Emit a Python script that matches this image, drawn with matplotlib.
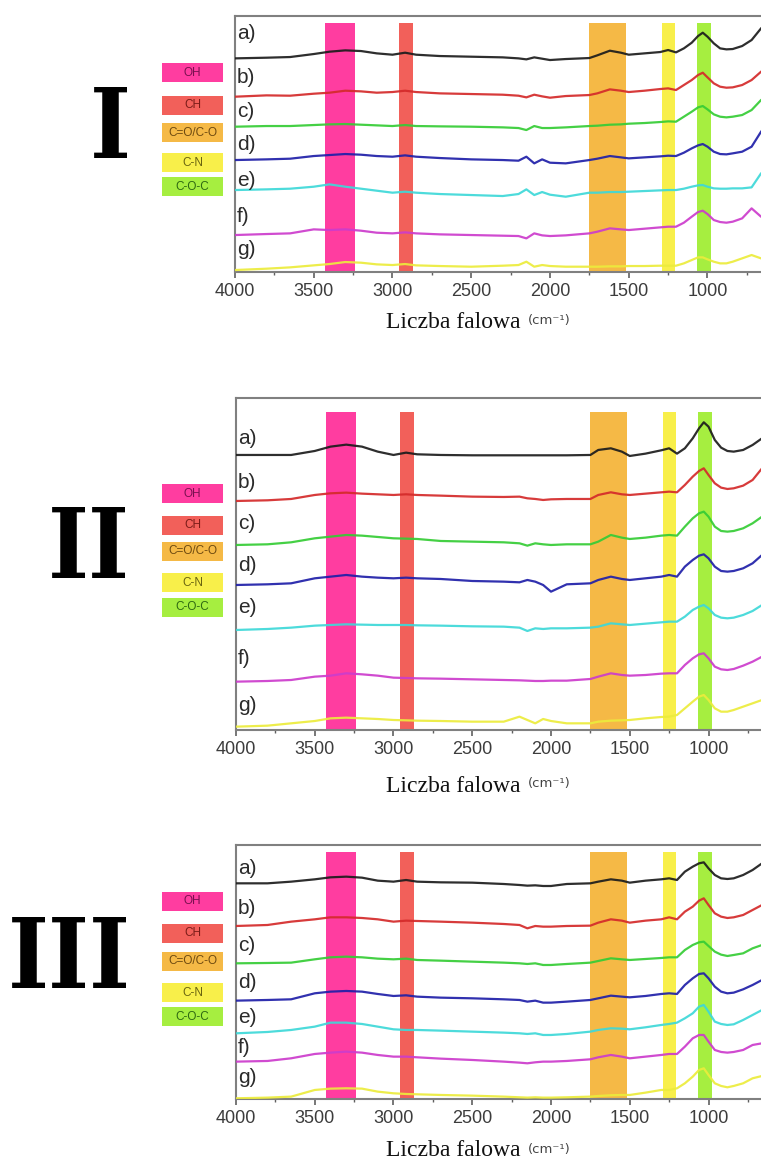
import matplotlib.pyplot as plt
from matplotlib.patches import Rectangle
from matplotlib.ticker import MultipleLocator

# wspolna siatka liczb falowych (cm-1)
wavenumber = [4000, 3800, 3650, 3500, 3400, 3300, 3200, 3100, 3000, 2920, 2850, 2700,
              2500, 2300, 2200, 2150, 2100, 2050, 2000, 1900, 1750, 1700, 1620, 1550,
              1500, 1400, 1300, 1250, 1200, 1150, 1100, 1060, 1030, 1000, 960, 920,
              880, 840, 780, 720, 660, 600]

# widma przesuniete (j.u.), kolejno a) ... g)
spectra_I = [
    [640, 642, 644, 653, 660, 664, 662, 655, 651, 657, 651, 647, 645, 643, 640, 637, 643, 639, 635, 638, 641,
     649, 663, 657, 651, 655, 659, 665, 658, 670, 687, 707, 717, 705, 685, 670, 667, 668, 677, 695, 730, 755],
    [525, 529, 528, 534, 537, 543, 541, 537, 539, 543, 539, 535, 533, 531, 528, 523, 531, 526, 522, 527, 530,
     535, 547, 543, 539, 543, 548, 550, 545, 560, 575, 590, 597, 583, 565, 555, 552, 553, 560, 575, 600, 620],
    [435, 437, 437, 440, 442, 443, 441, 439, 437, 440, 437, 436, 435, 433, 431, 425, 437, 431, 431, 433, 437,
     438, 441, 442, 444, 446, 449, 451, 450, 465, 480, 493, 497, 487, 472, 465, 463, 465, 470, 485, 515, 535],
    [335, 337, 339, 347, 350, 353, 351, 347, 345, 349, 345, 341, 337, 335, 333, 345, 325, 337, 327, 325, 335,
     339, 347, 343, 340, 343, 346, 348, 347, 357, 370, 379, 383, 375, 360, 353, 352, 355, 360, 375, 420, 455],
    [245, 247, 249, 255, 262, 255, 249, 243, 237, 240, 237, 233, 230, 227, 233, 247, 230, 239, 231, 225, 237,
     237, 239, 239, 240, 242, 244, 245, 245, 249, 255, 259, 260, 255, 250, 249, 249, 250, 250, 253, 295, 315],
    [110, 113, 115, 127, 125, 127, 123, 117, 115, 118, 115, 112, 110, 108, 107, 100, 115, 109, 107, 109, 115,
     120, 130, 127, 125, 129, 133, 135, 135, 147, 165, 179, 183, 173, 155, 149, 147, 150, 160, 190, 165, 160],
    [5, 9, 13, 19, 23, 29, 27, 22, 20, 23, 19, 17, 15, 18, 20, 30, 15, 20, 17, 15, 15,
     15, 16, 16, 17, 17, 18, 18, 18, 25, 35, 43, 43, 37, 30, 25, 25, 30, 40, 50, 40, 35],
]

spectra_II = [
    [825, 825, 825, 837, 850, 856, 850, 835, 825, 832, 827, 825, 824, 824, 824, 824, 824, 824, 824, 824, 825,
     840, 845, 835, 822, 829, 839, 845, 829, 845, 875, 905, 923, 910, 870, 847, 837, 835, 840, 855, 875, 890],
    [687, 689, 693, 705, 710, 712, 709, 707, 705, 707, 705, 703, 700, 699, 700, 695, 693, 690, 692, 693, 693,
     705, 713, 707, 705, 709, 713, 715, 713, 735, 760, 777, 785, 765, 740, 727, 723, 725, 733, 750, 785, 805],
    [555, 557, 563, 575, 580, 585, 583, 579, 575, 574, 573, 567, 565, 563, 560, 553, 560, 557, 555, 557, 557,
     565, 585, 577, 573, 577, 583, 585, 583, 610, 635, 650, 655, 640, 610, 597, 595, 597, 605, 620, 640, 655],
    [435, 437, 440, 455, 460, 465, 460, 457, 455, 457, 455, 453, 447, 445, 443, 450, 445, 435, 415, 437, 440,
     450, 460, 453, 450, 455, 460, 465, 460, 490, 510, 523, 527, 515, 490, 477, 475, 477, 485, 500, 525, 540],
    [300, 303, 307, 313, 315, 317, 316, 315, 315, 315, 314, 313, 311, 310, 307, 297, 305, 303, 305, 305, 307,
     310, 320, 317, 315, 319, 323, 325, 325, 340, 360, 370, 375, 365, 345, 337, 335, 337, 345, 357, 375, 385],
    [145, 147, 150, 160, 163, 170, 167, 163, 157, 156, 155, 154, 152, 150, 149, 148, 147, 147, 148, 148, 153,
     160, 170, 165, 163, 165, 169, 170, 170, 195, 215, 227, 230, 215, 190, 182, 180, 183, 193, 205, 220, 230],
    [10, 13, 20, 27, 35, 37, 35, 33, 30, 29, 28, 27, 25, 25, 40, 30, 20, 33, 27, 20, 20,
     25, 28, 29, 30, 35, 39, 40, 45, 65, 85, 100, 105, 90, 65, 55, 55, 60, 70, 80, 90, 100],
]

spectra_III = [
    [648, 648, 653, 660, 666, 668, 665, 656, 653, 658, 653, 651, 650, 646, 643, 641, 642, 640, 640, 646, 648,
     653, 660, 656, 650, 656, 660, 663, 658, 683, 698, 708, 711, 693, 673, 663, 661, 663, 673, 688, 708, 723],
    [520, 523, 533, 540, 546, 546, 544, 540, 533, 536, 535, 533, 530, 526, 523, 513, 520, 518, 518, 520, 521,
     530, 540, 536, 530, 536, 540, 546, 540, 563, 578, 596, 603, 583, 558, 548, 544, 546, 553, 568, 583, 598],
    [408, 409, 410, 420, 426, 428, 426, 422, 420, 422, 418, 416, 413, 410, 408, 406, 408, 403, 403, 406, 410,
     415, 423, 420, 418, 421, 424, 426, 426, 448, 463, 471, 473, 460, 443, 434, 430, 433, 438, 453, 463, 473],
    [296, 298, 300, 318, 323, 325, 323, 316, 310, 312, 308, 305, 303, 300, 298, 293, 296, 290, 290, 293, 298,
     303, 311, 308, 306, 310, 316, 318, 316, 343, 363, 376, 378, 363, 338, 323, 318, 320, 330, 343, 358, 368],
    [198, 202, 208, 218, 230, 230, 226, 218, 210, 208, 208, 206, 203, 200, 198, 196, 198, 193, 193, 196, 203,
     208, 213, 212, 210, 216, 223, 226, 230, 243, 258, 278, 283, 263, 233, 226, 223, 225, 238, 253, 268, 278],
    [113, 115, 123, 136, 140, 143, 140, 133, 128, 128, 126, 122, 118, 113, 110, 108, 111, 113, 113, 115, 120,
     126, 133, 128, 123, 128, 133, 136, 136, 158, 183, 193, 193, 173, 148, 142, 140, 142, 148, 163, 168, 176],
    [3, 5, 8, 28, 32, 33, 32, 23, 18, 16, 15, 13, 11, 8, 6, 5, 6, 5, 5, 6, 8,
     10, 12, 13, 13, 20, 28, 28, 33, 48, 68, 88, 93, 73, 48, 40, 36, 40, 48, 63, 70, 78],
]

sample_labels = ["a)", "b)", "c)", "d)", "e)", "f)", "g)"]
panel_names = ["I", "II", "III"]

band_names = ["OH", "CH", "C=O/C-O", "C-N", "C-O-C"]
band_ranges = [(3430, 3240), (2960, 2870), (1755, 1520), (1290, 1205), (1068, 978)]

# --- styl ---
line_colors = ["#1c1c1c", "#d42a2a", "#35cc35", "#1f1fa8", "#3ed8d8", "#cc3ccc", "#ecec3c"]
band_colors = ["#ff3da0", "#f2605a", "#f5b946", "#f8ef4a", "#a6ee40"]
band_text = ["#7a1050", "#7a1c18", "#6e4a10", "#6a6410", "#2f6a12"]

W, H = 761, 1163


def fx(x):
    return x / W


def fy(y):
    return 1 - y / H


# geometria paneli w pikselach: lewa, gora, dol, ylim, gora pasm, pozycje etykiet
panels = [
    dict(left=235, top=15.7, bottom=271.7, ymax=768, band_top=0.973,
         lab_y=[0.932, 0.757, 0.624, 0.495, 0.358, 0.214, 0.085],
         num=(110, 131), boxes=[63, 96, 123, 153, 177], xlab=323),
    dict(left=236, top=398.3, bottom=730, ymax=995, band_top=0.96,
         lab_y=[0.879, 0.745, 0.624, 0.497, 0.368, 0.217, 0.075],
         num=(89, 551), boxes=[484, 516, 542, 573, 598], xlab=786),
    dict(left=236, top=845, bottom=1099.3, ymax=763, band_top=0.974,
         lab_y=[0.909, 0.752, 0.606, 0.461, 0.323, 0.205, 0.087],
         num=(69, 961), boxes=[892, 924, 952, 983, 1007], xlab=1151),
]
all_spectra = [spectra_I, spectra_II, spectra_III]

fig = plt.figure(figsize=(W / 100, H / 100), dpi=100)

px_per_cm = 0.1575
for p, spectra, name in zip(panels, all_spectra, panel_names):
    width = 3400 * px_per_cm
    ax = fig.add_axes([fx(p["left"]), fy(p["bottom"]), width / W, (p["bottom"] - p["top"]) / H])
    ax.set_xlim(4000, 600)
    ax.set_ylim(0, p["ymax"])

    for (hi, lo), c in zip(band_ranges, band_colors):
        ax.axvspan(lo, hi, ymin=0, ymax=p["band_top"], color=c, lw=0, zorder=1)

    for y, c in zip(spectra, line_colors):
        ax.plot(wavenumber, y, color=c, lw=1.6, alpha=0.92, zorder=3)

    for lab, ly in zip(sample_labels, p["lab_y"]):
        ax.text(0.004, ly, lab, transform=ax.transAxes, fontsize=15, color="#2a2a2a",
                family="Liberation Sans", ha="left", va="center", zorder=4)

    for s in ["top", "bottom", "left"]:
        ax.spines[s].set_color("#808080")
        ax.spines[s].set_linewidth(1.5)
    ax.spines["right"].set_visible(False)
    ax.set_yticks([])
    ax.xaxis.set_major_locator(MultipleLocator(500))
    ax.xaxis.set_minor_locator(MultipleLocator(250))
    ax.tick_params(axis="x", which="major", direction="out", length=4, width=1.2,
                   color="#606060", labelsize=13, labelcolor="#3c3c3c", pad=4)
    ax.tick_params(axis="x", which="minor", direction="out", length=2.5, width=1, color="#606060")
    for t in ax.get_xticklabels():
        t.set_family("Liberation Sans")

    fig.text(fx(520), fy(p["xlab"]), "Liczba falowa", family="Liberation Serif", fontsize=17,
             ha="right", va="center", color="#111111")
    fig.text(fx(528), fy(p["xlab"] - 2), "(cm\u207b\u00b9)", family="DejaVu Sans", fontsize=9.5,
             ha="left", va="center", color="#444444")

    fig.text(fx(p["num"][0]), fy(p["num"][1]), name, family="DejaVu Serif", fontweight="bold",
             fontstretch="condensed", fontsize=70, ha="center", va="center", color="black")

    for bn, by, bc, tc in zip(band_names, p["boxes"], band_colors, band_text):
        fig.add_artist(Rectangle((fx(162), fy(by + 19)), 61 / W, 19 / H, transform=fig.transFigure,
                                 facecolor=bc, edgecolor="none"))
        fig.text(fx(192.5), fy(by + 9.5), bn, family="Liberation Sans", fontsize=8.5,
                 ha="center", va="center", color=tc)

fig.savefig("out.png", dpi=100)
